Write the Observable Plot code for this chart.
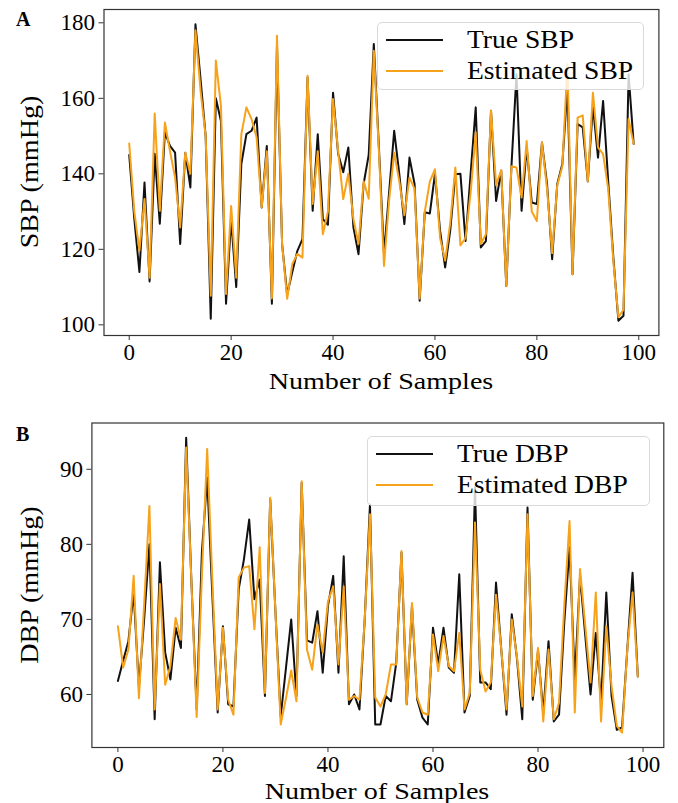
<!DOCTYPE html>
<html>
<head>
<meta charset="utf-8">
<script src="https://cdn.jsdelivr.net/npm/d3@7"></script>
<script src="https://cdn.jsdelivr.net/npm/@observablehq/plot@0.6"></script>
<style>
  html, body { margin: 0; padding: 0; background: #fff; }
  #wrap { position: relative; width: 678px; height: 803px; overflow: hidden; background: #fff;
          font-family: "Liberation Serif", "DejaVu Serif", serif; color: #000; }
  .panel { position: absolute; left: 0; }
  .lbl { position: absolute; white-space: nowrap; line-height: 1; }
  .ytitle { transform: translate(-50%, -50%) rotate(-90deg) scaleX(1.08); }
  .xtitle { transform: translate(-50%, -50%) scaleX(1.17); }
  .letter { font-weight: bold; font-size: 20px; }
  .legend { position: absolute; border: 1px solid #d9d9d9; border-radius: 5px; background: rgba(255,255,255,0.8); box-sizing: border-box; }
  .legend .sw { position: absolute; height: 0; border-top-width: 2px; border-top-style: solid; }
  .legend .tx { position: absolute; font-size: 26px; line-height: 1; transform: translateY(-50%) scaleX(1.06); transform-origin: left center; }
</style>
</head>
<body>
<div id="wrap"></div>
<script>
// ---- data ----
const samples = d3.range(100);
const sbpTicks = [100, 120, 140, 160, 180];
const dbpTicks = [60, 70, 80, 90];
const xTicks = [0, 20, 40, 60, 80, 100];

const sbpTrue = [
  145,128,114,137.7,111.5,145.3,126.8,151,147.4,145.6,
  121.4,145.6,136.4,179.6,165,150,101.6,160,154,105.6,
  128,110,142.6,150.5,151.4,154.9,131.1,147.4,105.6,174,
  121.4,108,114,119.6,122.7,165.5,130.2,150.5,128,126.5,
  161.5,145.3,140.4,147,125.8,118.7,137.3,145,174.4,147,
  118.8,135,151.4,140,126.7,144.3,137.3,106.4,129.8,129.5,
  140,125,115.2,125,139.9,140,122.2,140,157.6,120.5,
  122.2,156.7,132.8,140.8,110.3,141.7,166.4,130.2,147,132.4,
  132,148.3,137.3,117.4,137.3,142.6,163,113.4,153.2,152.3,
  138,158,144.3,159.3,138,118,101.1,102.4,166.4,147.9
];
const sbpEst = [
  148,130,119.6,133.3,112.5,156,130.2,153.6,146,139,
  125.8,145.6,140,178,162,150,107.7,170,158,108.2,
  131.5,112.5,150.5,157.6,154.5,149.6,131.1,146,107,176.6,
  121.4,106.9,116.1,118.8,117.8,166,132,146,124,130,
  159.8,146,133.3,140,128,121.4,138,133.4,172.6,146,
  115.6,133,145.6,138,129,139,136,107,130,138,
  141.2,123,117,127,141.7,121,123,135,151,121.4,
  124,156.7,137,141,110.3,142,141.7,133.7,148.7,130,
  127.5,148.3,136,119,137,142,169,113.4,154.9,155.5,
  138,161.5,147,145.2,136,117,102,104,154.5,147.9
];
const dbpTrue = [
  61.8,64.5,67.1,73.6,61,70,80,56.7,77.6,65.6,
  62,68.9,66.2,94.2,75,58,79,88.9,73,57.6,
  69.1,58.7,58.4,74,78,83.3,72.7,75.3,59.8,86,
  71,57.1,63.5,70,59.8,88.2,67.2,66.9,71.1,62.9,
  71.8,75.8,62.9,78.4,58.7,60,58,70,85.3,56,
  56,59.8,59.1,64.2,78.9,58.7,71.8,59.3,56.9,56,
  68.9,64,68.9,63.6,62.9,76,57.6,59.8,87.6,61.6,
  61.6,60.7,74.9,66,57.3,70.7,64.7,56.7,84.9,59.3,
  65.8,57.5,67.1,56.4,57.3,69.6,79.6,62,75.8,67.8,
  60,68.2,58.9,73.6,59.8,55.3,55.6,66,76.2,62.4
];
const dbpEst = [
  69.1,63.6,66,75.8,59.5,72,85.1,58,74.7,61.3,
  63.8,70.2,67.3,92.9,75,57,76,92.7,75,58,
  68.9,59.3,57.3,75.6,76.9,77.1,68.7,79.6,60.2,86.2,
  71,56,59.5,63.2,59.1,88.4,66,63.3,69.3,65.6,
  72.4,74.4,64,74.4,59.3,59.8,59.3,70,84,59.6,
  58.4,60,64,64,79.1,58.7,72.2,59.6,57.6,57.3,
  68,63.1,67.8,63.8,63.1,68.2,58,60.2,82.9,63.3,
  60.4,61.6,73.3,66,58,70,64.9,58.4,84,59.8,
  66.2,56.4,66,56.7,58.9,71.8,83.1,57.6,76.7,69.1,
  61.6,73.6,56.4,69.1,61.1,55.8,54.9,66,73.6,62.4
];

const trueColor = "#111111";
const estColor = "#f7a21b";

function padded(a, b) {
  const lo = Math.min(d3.min(a), d3.min(b)), hi = Math.max(d3.max(a), d3.max(b));
  const m = (hi - lo) * 0.05;
  return [lo - m, hi + m];
}
const xDomain = [-4.95, 103.95];

function panel(opts) {
  const {top, height, mt, mb, ml, mr, tv, ev, yticks} = opts;
  const chart = Plot.plot({
    width: 678, height, marginTop: mt, marginBottom: mb, marginLeft: ml, marginRight: mr,
    style: {fontFamily: "'Liberation Serif', 'DejaVu Serif', serif", fontSize: "23px", color: "#000", background: "transparent", overflow: "visible"},
    x: {domain: xDomain, label: null},
    y: {domain: padded(tv, ev), label: null},
    marks: [
      Plot.line(samples, {x: d => d, y: i => tv[i], stroke: trueColor, strokeWidth: 2}),
      Plot.line(samples, {x: d => d, y: i => ev[i], stroke: estColor, strokeWidth: 2}),
      Plot.frame({stroke: "#333", strokeWidth: 1.2}),
      Plot.axisX({ticks: xTicks, tickSize: 5, tickPadding: 3, stroke: "#333", fill: "#000", label: null}),
      Plot.axisY({ticks: yticks, tickSize: 5, tickPadding: 4, stroke: "#333", fill: "#000", label: null})
    ]
  });
  chart.classList.add("panel");
  chart.style.top = top + "px";
  return chart;
}

const wrap = document.getElementById("wrap");
wrap.appendChild(panel({top: 0, height: 400, mt: 9, mb: 65, ml: 103.5, mr: 19.6, tv: sbpTrue, ev: sbpEst, yticks: sbpTicks}));
wrap.appendChild(panel({top: 410, height: 393, mt: 12.5, mb: 56, ml: 91.4, mr: 14.7, tv: dbpTrue, ev: dbpEst, yticks: dbpTicks}));

function addText(txt, cls, x, y, extra) {
  const d = document.createElement("div");
  d.className = "lbl " + cls;
  d.textContent = txt;
  d.style.left = x + "px";
  d.style.top = y + "px";
  if (extra) Object.assign(d.style, extra);
  wrap.appendChild(d);
  return d;
}
addText("A", "letter", 16, 9);
addText("B", "letter", 16, 424);
addText("SBP (mmHg)", "ytitle", 30, 172, {fontSize: "26px"});
addText("DBP (mmHg)", "ytitle", 30, 585, {fontSize: "26px"});
addText("Number of Samples", "xtitle", 381, 381, {fontSize: "24px"});
addText("Number of Samples", "xtitle", 377, 791, {fontSize: "24px"});

function legend(x, y, w, h, items) {
  const box = document.createElement("div");
  box.className = "legend";
  Object.assign(box.style, {left: x + "px", top: y + "px", width: w + "px", height: h + "px"});
  items.forEach((it, k) => {
    const cy = 17 + k * 31;
    const sw = document.createElement("div");
    sw.className = "sw";
    Object.assign(sw.style, {left: "8px", width: "57px", top: (cy - 1) + "px", borderTopColor: it.color});
    box.appendChild(sw);
    const tx = document.createElement("div");
    tx.className = "tx";
    tx.textContent = it.label;
    Object.assign(tx.style, {left: "89px", top: cy + "px"});
    box.appendChild(tx);
  });
  wrap.appendChild(box);
}
legend(377, 22, 267, 68, [{label: "True SBP", color: trueColor}, {label: "Estimated SBP", color: estColor}]);
legend(367, 436, 283, 70, [{label: "True DBP", color: trueColor}, {label: "Estimated DBP", color: estColor}]);
</script>
</body>
</html>
